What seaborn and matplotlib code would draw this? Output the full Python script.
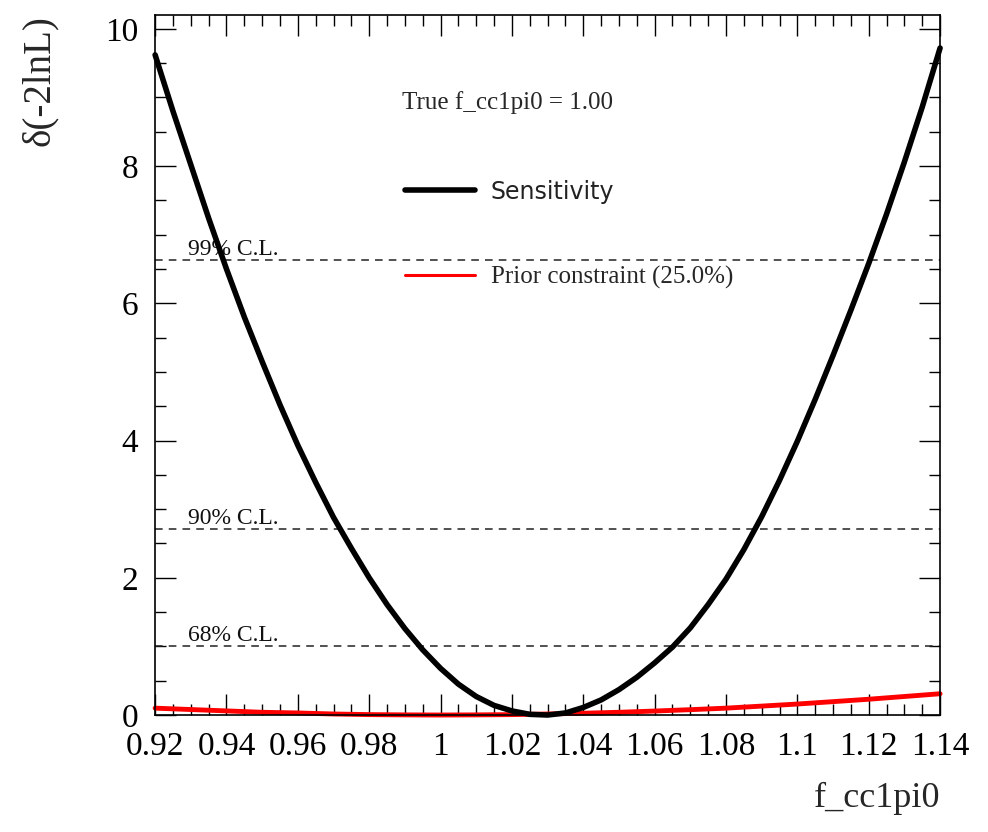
import matplotlib
matplotlib.use("Agg")
import matplotlib.pyplot as plt
import numpy as np
import pandas as pd
import seaborn as sns
from matplotlib.ticker import MultipleLocator, FixedLocator, FixedFormatter

# ---- data ----
f_sens = [0.920, 0.925, 0.930, 0.935, 0.940, 0.945, 0.950, 0.955, 0.960, 0.965,
          0.970, 0.975, 0.980, 0.985, 0.990, 0.995, 1.000, 1.005, 1.010, 1.015,
          1.020, 1.025, 1.030, 1.035, 1.040, 1.045, 1.050, 1.055, 1.060, 1.065,
          1.070, 1.075, 1.080, 1.085, 1.090, 1.095, 1.100, 1.105, 1.110, 1.115,
          1.120, 1.125, 1.130, 1.135, 1.140]
sensitivity = [9.62, 8.80, 8.02, 7.24, 6.50, 5.80, 5.15, 4.52, 3.93, 3.39,
               2.88, 2.43, 2.00, 1.61, 1.26, 0.95, 0.68, 0.45, 0.27, 0.14,
               0.06, 0.01, 0.00, 0.03, 0.11, 0.22, 0.37, 0.55, 0.76, 0.99,
               1.27, 1.61, 1.98, 2.41, 2.89, 3.42, 3.99, 4.60, 5.24, 5.90,
               6.58, 7.30, 8.06, 8.86, 9.72]
f_prior = [0.92, 0.93, 0.94, 0.95, 0.96, 0.97, 0.98, 0.99, 1.00, 1.01, 1.02,
           1.03, 1.04, 1.05, 1.06, 1.07, 1.08, 1.09, 1.10, 1.11, 1.12, 1.13, 1.14]
prior = [0.10, 0.08, 0.06, 0.04, 0.03, 0.015, 0.006, 0.002, 0.00, 0.002, 0.006,
         0.015, 0.026, 0.04, 0.058, 0.078, 0.10, 0.13, 0.16, 0.195, 0.23, 0.27, 0.31]
cl_levels = [1.0, 2.71, 6.63]
cl_labels = ["68% C.L.", "90% C.L.", "99% C.L."]
x_ticks = [0.92, 0.94, 0.96, 0.98, 1.00, 1.02, 1.04, 1.06, 1.08, 1.10, 1.12, 1.14]
x_ticklabels = ["0.92", "0.94", "0.96", "0.98", "1", "1.02", "1.04", "1.06",
                "1.08", "1.1", "1.12", "1.14"]
y_ticks = [0, 2, 4, 6, 8, 10]
y_ticklabels = ["0", "2", "4", "6", "8", "10"]
series_names = ["Sensitivity", "Prior constraint (25.0%)"]
annotation = "True f_cc1pi0 = 1.00"
x_label = "f_cc1pi0"
y_label = "δ(-2lnL)"

sns.set_style("ticks")
plt.rcParams["font.family"] = ["Liberation Serif", "DejaVu Serif"]

df_sens = pd.DataFrame({"f": f_sens, "v": sensitivity})
df_prior = pd.DataFrame({"f": f_prior, "v": prior})

fig = plt.figure(figsize=(9.88, 8.32), dpi=100)
ax = fig.add_axes([0.157, 0.1406, 0.7945, 0.8413])

# C.L. lines
for lvl, lab in zip(cl_levels, cl_labels):
    ax.axhline(lvl, color="#222222", lw=1.1, ls=(0, (5, 4)), zorder=1)
    ax.text(0.042, lvl, lab, transform=ax.get_yaxis_transform(),
            fontsize=17, va="bottom", ha="left", color="#111111")

sns.lineplot(data=df_sens, x="f", y="v", ax=ax, color="black", lw=4,
             label=series_names[0], zorder=3, clip_on=False)
sns.lineplot(data=df_prior, x="f", y="v", ax=ax, color="red", lw=3.5,
             label=series_names[1], zorder=2, clip_on=False)

ax.set_xlim(0.92, 1.14)
ax.set_ylim(0, 10.2)
ax.xaxis.set_major_locator(FixedLocator(x_ticks))
ax.xaxis.set_major_formatter(FixedFormatter(x_ticklabels))
ax.xaxis.set_minor_locator(MultipleLocator(0.005))
ax.yaxis.set_major_locator(FixedLocator(y_ticks))
ax.yaxis.set_major_formatter(FixedFormatter(y_ticklabels))
ax.yaxis.set_minor_locator(MultipleLocator(0.5))
ax.tick_params(which="both", direction="in", top=True, right=True,
               colors="black", width=1.0, labelsize=24)
ax.tick_params(which="major", length=15)
ax.tick_params(which="minor", length=8)
ax.tick_params(axis="x", which="major", pad=12)
ax.tick_params(axis="y", which="major", pad=12)
for s in ax.spines.values():
    s.set_linewidth(1.2)
    s.set_color("black")

ax.set_xlabel(x_label, fontsize=26, loc="right", labelpad=14)
ax.set_ylabel(y_label, fontsize=28, loc="top", labelpad=34)

ax.text(0.314, 0.875, annotation, transform=ax.transAxes, fontsize=18,
        ha="left", va="center")

leg = ax.legend(loc="upper left", bbox_to_anchor=(0.318, 0.765), frameon=False,
                fontsize=18, handlelength=2.8, handletextpad=0.65,
                labelspacing=2.5, borderpad=0, borderaxespad=0)
texts = leg.get_texts()
texts[0].set_fontfamily(["DejaVu Sans"])
texts[0].set_fontsize(17)
texts[0].set_color("#222222")
lines = leg.get_lines()
lines[0].set_linewidth(4)
lines[1].set_linewidth(2.2)

fig.savefig("out.png", dpi=100, facecolor="white")
